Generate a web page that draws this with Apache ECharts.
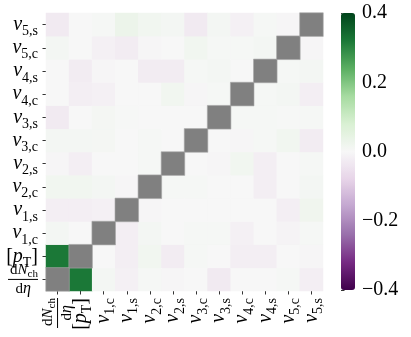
<!DOCTYPE html>
<html>
<head>
<meta charset="utf-8">
<script src="https://cdn.jsdelivr.net/npm/echarts@6/dist/echarts.min.js"></script>
<style>
  html, body { margin: 0; padding: 0; background: #fff; }
  #chart { width: 411px; height: 337px; }
</style>
</head>
<body>
<div id="chart"></div>
<script>
// labels, bottom row / left column first
const labels = ['dN', 'pT', 'v1c', 'v1s', 'v2c', 'v2s', 'v3c', 'v3s', 'v4c', 'v4s', 'v5c', 'v5s'];

// correlation matrix, corr[row][col], row 0 = dN/deta (bottom); diagonal = null (grey)
const corr = [
    [null, 0.32, 0.01, -0.015, 0.005, -0.005, 0, -0.03, 0, 0, 0.005, -0.02],
    [0.32, null, 0, -0.02, 0.015, -0.025, 0.005, 0, -0.02, -0.02, 0, -0.005],
    [0.01, 0, null, -0.02, 0.01, 0, 0.005, 0.005, -0.015, 0, -0.01, 0.005],
    [-0.02, -0.02, -0.015, null, -0.005, 0, 0, 0, 0, 0, -0.02, 0.02],
    [0.015, 0.015, 0.01, -0.005, null, 0.005, 0.005, 0, 0, -0.02, 0, 0.01],
    [-0.005, -0.02, 0, 0, 0.005, null, 0, -0.005, 0.015, -0.02, 0, 0.005],
    [0.01, 0.01, 0.008, 0, 0.005, 0, null, 0, -0.005, 0.005, 0.015, -0.025],
    [-0.03, 0, 0.008, 0.003, 0, 0, 0, null, 0.005, 0.005, 0.003, 0.005],
    [0, -0.02, -0.015, 0, 0, 0.015, -0.005, 0.005, null, 0.005, 0.01, -0.02],
    [0, -0.025, -0.005, 0, -0.025, -0.025, 0.005, 0.01, 0, null, 0.005, 0.01],
    [0.01, 0, -0.015, -0.025, -0.005, 0, 0.015, 0.005, 0.005, 0.01, null, -0.005],
    [-0.03, 0, 0.005, 0.03, 0.015, 0.01, -0.03, 0.01, -0.015, 0.005, -0.005, null]
];

// colorbar ticks
const cbTicks = [-0.4, -0.2, 0.0, 0.2, 0.4];

// PRGn
const prgn = ['#40004b', '#762a83', '#9970ab', '#c2a5cf', '#e7d4e8', '#f7f7f7',
    '#d9f0d3', '#a6dba0', '#5aae61', '#1b7837', '#00441b'];

const FONT = 'Liberation Serif';

// rich text label for each category
function labelText(k) {
    if (k === 'dN') return '{n|d}{itn|N}{sn|ch}\n{bar|}\n{d|d}{itd|η}';
    if (k === 'pT') return '{r|[}{it|p}{s|T}{r|]}';
    return '{it|v}{s|' + k[1] + ',' + k[2] + '}';
}

const rich = {
    it: { fontFamily: FONT, fontSize: 20, fontStyle: 'italic', color: '#000', verticalAlign: 'bottom', lineHeight: 20 },
    r: { fontFamily: FONT, fontSize: 20, color: '#000', verticalAlign: 'bottom', lineHeight: 20 },
    s: { fontFamily: FONT, fontSize: 14, color: '#000', verticalAlign: 'bottom', lineHeight: 14, padding: [0, 0, -4, 0] },
    n: { fontFamily: FONT, fontSize: 15, color: '#000', verticalAlign: 'bottom', lineHeight: 15 },
    itn: { fontFamily: FONT, fontSize: 15, fontStyle: 'italic', color: '#000', verticalAlign: 'bottom', lineHeight: 15 },
    sn: { fontFamily: FONT, fontSize: 11, color: '#000', verticalAlign: 'bottom', lineHeight: 11, padding: [0, 0, -2, 0] },
    bar: { width: 30, height: 1, backgroundColor: '#000', lineHeight: 4 },
    d: { fontFamily: FONT, fontSize: 15, color: '#000', verticalAlign: 'bottom', lineHeight: 15 },
    itd: { fontFamily: FONT, fontSize: 16, fontStyle: 'italic', color: '#000', verticalAlign: 'bottom', lineHeight: 15, padding: [0, 7, 0, 0] }
};

let cells = [];
let diag = [];
corr.forEach((row, r) => {
    row.forEach((v, c) => {
        if (v === null) diag.push([c, r, 0]);
        else cells.push([c, r, v]);
    });
});

const chart = echarts.init(document.getElementById('chart'));

let option = {
    animation: false,
    grid: [
        { left: 46, top: 13, width: 277, height: 278 },
        { left: 341, top: 13, width: 14, height: 277 }
    ],
    xAxis: [
        {
            type: 'category', data: labels, gridIndex: 0,
            axisLine: { show: false },
            axisTick: { show: true, alignWithLabel: true, length: 3.5, lineStyle: { color: '#000', width: 0.8 } },
            axisLabel: { rotate: 90, margin: 7, formatter: labelText, rich: rich, interval: 0 },
            splitLine: { show: false }
        },
        { type: 'value', gridIndex: 1, show: false, min: 0, max: 1 }
    ],
    yAxis: [
        {
            type: 'category', data: labels, gridIndex: 0,
            axisLine: { show: false },
            axisTick: { show: true, alignWithLabel: true, length: 3.5, lineStyle: { color: '#000', width: 0.8 } },
            axisLabel: { margin: 8, formatter: labelText, rich: rich, interval: 0 },
            splitLine: { show: false }
        },
        {
            type: 'value', gridIndex: 1, position: 'right', min: -0.4, max: 0.4, interval: 0.2,
            axisLine: { show: false },
            axisTick: { show: true, length: 3.5, lineStyle: { color: '#000', width: 0.8 } },
            axisLabel: {
                margin: 7, fontFamily: FONT, fontSize: 20, color: '#000',
                formatter: v => (v < 0 ? '\u2212' : '') + Math.abs(v).toFixed(1)
            },
            splitLine: { show: false }
        }
    ],
    visualMap: {
        type: 'continuous', min: -0.4, max: 0.4, seriesIndex: 0,
        calculable: false, hoverLink: false,
        left: 341, top: 13, padding: 0,
        itemWidth: 14, itemHeight: 277,
        inRange: { color: prgn }
    },
    series: [
        {
            type: 'heatmap', xAxisIndex: 0, yAxisIndex: 0, data: cells,
            itemStyle: { borderWidth: 0 }
        },
        {
            type: 'heatmap', xAxisIndex: 0, yAxisIndex: 0, data: diag,
            itemStyle: { color: '#808080', borderColor: '#a8a8a8', borderWidth: 0.6 }
        }
    ]
};
chart.setOption(option);
</script>
</body>
</html>
